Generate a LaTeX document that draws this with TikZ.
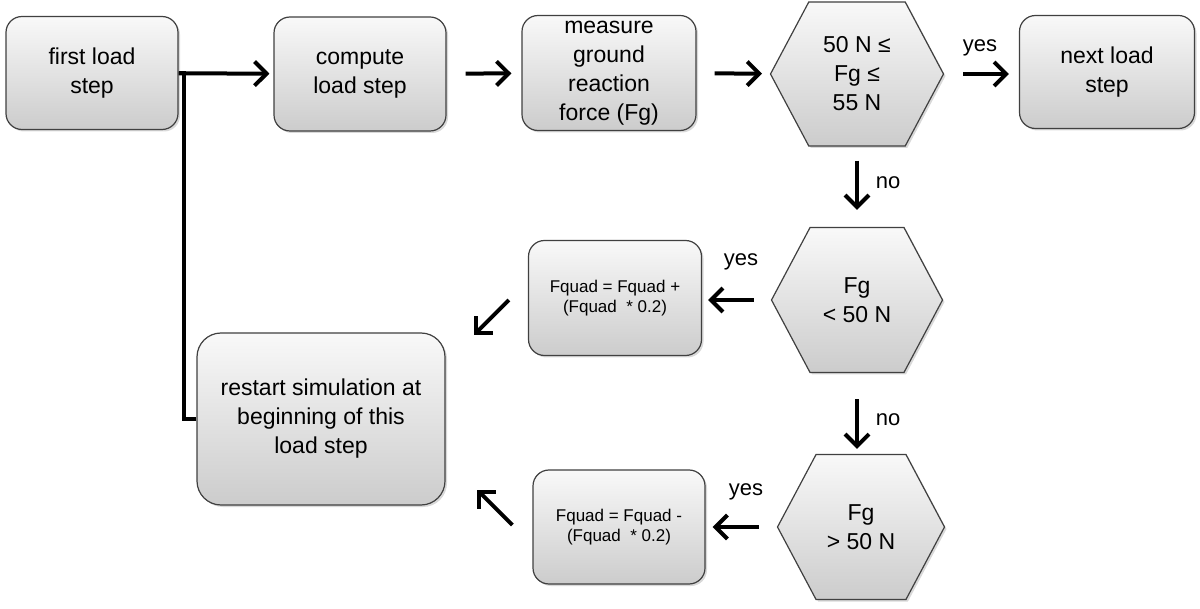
\documentclass[tikz,border=0pt]{standalone}
\usepackage{fontspec}
\setmainfont{Liberation Sans}
\usetikzlibrary{shapes.symbols,arrows.meta,shadows}

\tikzset{
	stepbox/.style={draw=black!75, line width=0.6pt, rounded corners=8pt,
		top color=gray!5, bottom color=gray!40,
		drop shadow={opacity=0.3, shadow xshift=1pt, shadow yshift=-1pt},
		align=center, inner sep=2pt, font=\fontsize{11.5}{14.5}\selectfont},
	calcbox/.style={stepbox, font=\fontsize{8.5}{10}\selectfont},
	check/.style={signal, signal to=west and east, signal pointer angle=124,
		draw=black!75, line width=0.6pt, top color=gray!5, bottom color=gray!40,
		drop shadow={opacity=0.3, shadow xshift=1pt, shadow yshift=-1pt},
		align=center, inner sep=0pt, font=\fontsize{11.5}{14.5}\selectfont},
	arr/.style={line width=2pt, -{Straight Barb[length=6pt,width=12pt]}},
	lbl/.style={font=\fontsize{11}{13}\selectfont}
}

\begin{document}
\begin{tikzpicture}[x=0.5pt, y=-0.5pt]
	\useasboundingbox (0,0) rectangle (1200,609);
	% Top row
	\node [stepbox, minimum width=86pt, minimum height=56.5pt] (first) at (92,73) {first load\\step};
	\node [stepbox, minimum width=86pt, minimum height=57pt] (compute) at (360,74) {compute\\load step};
	\node [stepbox, minimum width=87pt, minimum height=57.5pt] (measure) at (609,73) {measure\\ground\\reaction\\force (Fg)};
	\node [check, minimum width=86.5pt, minimum height=72pt] (rangeok) at (857,74) {50 N ≤\\Fg ≤\\55 N};
	\node [stepbox, minimum width=87.5pt, minimum height=56.5pt] (next) at (1107,72) {next load\\step};
	% Checks
	\node [check, minimum width=85.5pt, minimum height=72.5pt] (toolow) at (857,300) {Fg\\< 50 N};
	\node [check, minimum width=83.5pt, minimum height=72.5pt] (toohigh) at (861,527) {Fg\\> 50 N};
	% Corrections
	\node [calcbox, minimum width=86.5pt, minimum height=57.5pt] (raise) at (615,298) {Fquad = Fquad +\\(Fquad \ * 0.2)};
	\node [calcbox, minimum width=86pt, minimum height=57pt] (lower) at (619,527) {Fquad = Fquad -\\(Fquad \ * 0.2)};
	\node [stepbox, rounded corners=12pt, minimum width=124pt, minimum height=86pt] (restart) at (321,419) {restart simulation at\\beginning of this\\load step};
	% Arrows
	\draw [arr, shorten >=2pt] (first) -- (compute);
	\draw [arr, shorten <=9.5pt, shorten >=5pt] (compute) -- (measure);
	\draw [arr, shorten <=9pt, shorten >=4pt] (measure) -- (rangeok);
	\draw [arr, shorten <=9.5pt, shorten >=5pt] (rangeok.east) -- (next.west |- rangeok.east);
	\draw [arr, shorten <=7pt, shorten >=8.5pt] (rangeok.south) -- (toolow.north);
	\draw [arr, shorten <=8.5pt, shorten >=3pt] (toolow.west) -- (raise.east |- toolow.west);
	\draw [arr, shorten <=13pt, shorten >=2.5pt] (toolow.south) -- (toohigh.north -| toolow.south);
	\draw [arr, shorten <=9pt, shorten >=3.5pt] (toohigh.west) -- (lower.east |- toohigh.west);
	\draw [arr] ([shift={(-19,2)}]raise.west) -- ++(-35,35);
	\draw [arr] ([shift={(-20,-2)}]lower.west) -- ++(-35,-35);
	% Loop back
	\draw [line width=2pt] (restart.west) -- ++(-12,0) |- (first.east);
	% Labels
	\node [lbl] (yesA) at (980,48) {yes};
	\node [lbl] (noA) at (888,183) {no};
	\node [lbl] (yesB) at (741,262) {yes};
	\node [lbl] (noB) at (888,420) {no};
	\node [lbl] (yesC) at (746,492) {yes};
\end{tikzpicture}
\end{document}
